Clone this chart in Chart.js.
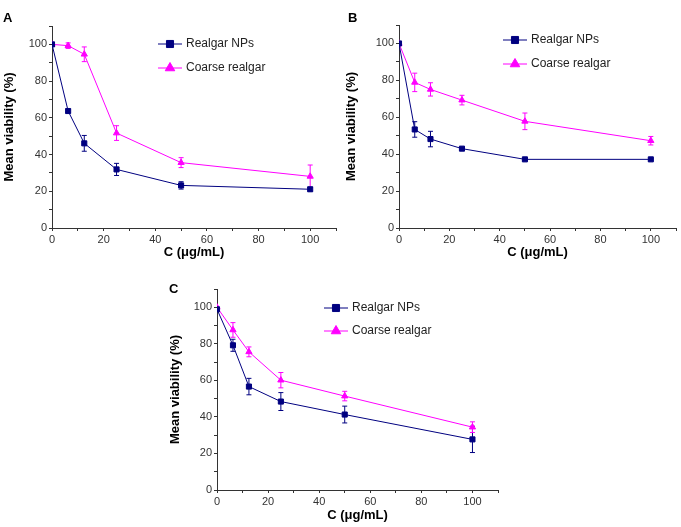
<!DOCTYPE html>
<html>
<head>
<meta charset="utf-8">
<script src="https://cdn.jsdelivr.net/npm/chart.js@4.4.0/dist/chart.umd.min.js"></script>
<style>
    body { margin: 0; background: #fff; }
    #wrap { position: relative; width: 681px; height: 527px; overflow: hidden; }
    canvas { position: absolute; }
</style>
</head>
<body>
<div id="wrap">
    <canvas id="panelA" width="341" height="260" style="left:0;top:0"></canvas>
    <canvas id="panelB" width="341" height="260" style="left:340px;top:0"></canvas>
    <canvas id="panelC" width="345" height="257" style="left:165px;top:270px"></canvas>
</div>
<script>
// Concentrations (µg/mL) shared by all panels
const concentrations = [0, 6.25, 12.5, 25, 50, 100];
const seriesLabels = ['Realgar NPs', 'Coarse realgar'];

// Panel A
const aNanoMean = [100, 63.7, 46.1, 31.9, 23.2, 21.1];
const aNanoErr = [0, 1, 4.3, 3.3, 2, 1];
const aCoarseMean = [100, 99.3, 94.6, 51.7, 35.6, 28.1];
const aCoarseErr = [0, 1.5, 4, 4, 2.7, 6.2];

// Panel B
const bNanoMean = [100, 53.4, 48.2, 43, 37.2, 37.2];
const bNanoErr = [0, 4.2, 4.2, 0.5, 0.5, 0.5];
const bCoarseMean = [100, 78.9, 75.1, 69.3, 57.8, 47.3];
const bCoarseErr = [0, 5, 3.6, 2.6, 4.5, 2.3];

// Panel C
const cNanoMean = [98.9, 79.2, 56.6, 48.4, 41.3, 27.7];
const cNanoErr = [0, 3.3, 4.5, 4.9, 4.6, 7.2];
const cCoarseMean = [100, 87.6, 75.6, 60.1, 51.4, 34.4];
const cCoarseErr = [0, 4, 2.7, 4.2, 2.6, 2.9];

const xTicks = [0, 20, 40, 60, 80, 100];
const yTicks = [0, 20, 40, 60, 80, 100];

const fontFamily = "'Liberation Sans', Arial, Helvetica, sans-serif";
const colors = {
    nano: '#000080',
    coarse: '#ff00ff',
    axis: '#333333',
    text: '#222222'
};

// Error bars drawn under the markers
const errorBarPlugin = {
    id: 'errorBars',
    beforeDatasetsDraw(chart) {
        const ctx = chart.ctx;
        const xs = chart.scales.x, ys = chart.scales.y;
        chart.data.datasets.forEach(ds => {
            if (!ds.errors) return;
            ctx.save();
            ctx.strokeStyle = ds.borderColor;
            ctx.lineWidth = 1;
            ds.data.forEach((p, i) => {
                const e = ds.errors[i];
                if (!e) return;
                const px = xs.getPixelForValue(p.x);
                const top = ys.getPixelForValue(p.y + e);
                const bot = ys.getPixelForValue(p.y - e);
                ctx.beginPath();
                ctx.moveTo(px, top); ctx.lineTo(px, bot);
                ctx.moveTo(px - 2.5, top); ctx.lineTo(px + 2.5, top);
                ctx.moveTo(px - 2.5, bot); ctx.lineTo(px + 2.5, bot);
                ctx.stroke();
            });
            ctx.restore();
        });
    }
};

// Legend box and panel letter
const panelDecorPlugin = {
    id: 'panelDecor',
    afterDraw(chart, args, opts) {
        const ctx = chart.ctx;
        ctx.save();
        ctx.fillStyle = '#000';
        ctx.font = 'bold 13px ' + fontFamily;
        ctx.textBaseline = 'alphabetic';
        ctx.fillText(opts.letter, opts.letterX, opts.letterY);

        chart.data.datasets.forEach((ds, i) => {
            const y = opts.legendY + i * opts.legendGap;
            const x0 = opts.legendX;
            ctx.strokeStyle = ds.borderColor;
            ctx.fillStyle = ds.backgroundColor;
            ctx.lineWidth = 1;
            ctx.beginPath();
            ctx.moveTo(x0, y); ctx.lineTo(x0 + 24, y);
            ctx.stroke();
            Chart.helpers.drawPoint(ctx, {
                pointStyle: ds.pointStyle,
                radius: ds.pointStyle === 'triangle' ? 5.5 : 5,
                rotation: 0,
                borderWidth: 1
            }, x0 + 12, y);
            ctx.fillStyle = colors.text;
            ctx.font = '12px ' + fontFamily;
            ctx.textBaseline = 'middle';
            ctx.fillText(ds.label, x0 + 28, y);
        });
        ctx.restore();
    }
};

function toPoints(values) {
    return values.map((v, i) => ({ x: concentrations[i], y: v }));
}

function createPanel(canvasId, nanoMean, nanoErr, coarseMean, coarseErr, layout) {
    const ctx = document.getElementById(canvasId).getContext('2d');
    const tickFont = { family: fontFamily, size: 11 };
    const titleFont = { family: fontFamily, size: 13, weight: 'bold' };

    return new Chart(ctx, {
        type: 'line',
        data: {
            datasets: [{
                label: seriesLabels[0],
                data: toPoints(nanoMean),
                errors: nanoErr,
                borderColor: colors.nano,
                backgroundColor: colors.nano,
                borderWidth: 1,
                pointStyle: 'rect',
                pointRadius: 3.6,
                pointBorderWidth: 1,
                tension: 0
            }, {
                label: seriesLabels[1],
                data: toPoints(coarseMean),
                errors: coarseErr,
                borderColor: colors.coarse,
                backgroundColor: colors.coarse,
                borderWidth: 1,
                pointStyle: 'triangle',
                pointRadius: 3.6,
                pointBorderWidth: 1,
                tension: 0
            }]
        },
        options: {
            responsive: false,
            animation: false,
            devicePixelRatio: 1,
            layout: {
                padding: { top: layout.padTop, right: layout.padRight, left: 0, bottom: 0 }
            },
            plugins: {
                legend: { display: false },
                tooltip: { enabled: false },
                panelDecor: layout.decor
            },
            scales: {
                x: {
                    type: 'linear',
                    min: 0,
                    max: 110,
                    afterFit: function(scale) { scale.height = layout.xHeight; },
                    border: { display: true, color: colors.axis, width: 1 },
                    grid: { drawOnChartArea: false, tickLength: 3, tickColor: colors.axis },
                    ticks: {
                        stepSize: 10,
                        includeBounds: false,
                        autoSkip: false,
                        maxRotation: 0,
                        padding: 2,
                        color: colors.axis,
                        font: tickFont,
                        callback: v => xTicks.includes(v) ? String(v) : ''
                    },
                    title: {
                        display: true,
                        text: 'C (μg/mL)',
                        color: '#000',
                        font: titleFont,
                        padding: { top: 0, bottom: layout.xTitlePad }
                    }
                },
                y: {
                    type: 'linear',
                    min: 0,
                    max: 110,
                    afterFit: function(scale) { scale.width = layout.yWidth; },
                    border: { display: true, color: colors.axis, width: 1 },
                    grid: { drawOnChartArea: false, tickLength: 3, tickColor: colors.axis },
                    ticks: {
                        stepSize: 10,
                        includeBounds: false,
                        autoSkip: false,
                        padding: 2,
                        color: colors.axis,
                        font: tickFont,
                        callback: v => yTicks.includes(v) ? String(v) : ''
                    },
                    title: {
                        display: true,
                        text: 'Mean viability (%)',
                        color: '#000',
                        font: titleFont,
                        padding: { top: layout.yTitlePad, bottom: 0 }
                    }
                }
            }
        },
        plugins: [errorBarPlugin, panelDecorPlugin]
    });
}

createPanel('panelA', aNanoMean, aNanoErr, aCoarseMean, aCoarseErr, {
    padTop: 26, padRight: 1, yWidth: 52, xHeight: 32, xTitlePad: 0, yTitlePad: 2,
    decor: { letter: 'A', letterX: 3, letterY: 22, legendX: 158, legendY: 44, legendGap: 24 }
});

createPanel('panelB', bNanoMean, bNanoErr, bCoarseMean, bCoarseErr, {
    padTop: 25, padRight: 1, yWidth: 59, xHeight: 32, xTitlePad: 0, yTitlePad: 4,
    decor: { letter: 'B', letterX: 8, letterY: 22, legendX: 163, legendY: 40, legendGap: 24 }
});

createPanel('panelC', cNanoMean, cNanoErr, cCoarseMean, cCoarseErr, {
    padTop: 19, padRight: 12, yWidth: 52, xHeight: 37, xTitlePad: 3.5, yTitlePad: 3,
    decor: { letter: 'C', letterX: 4, letterY: 23, legendX: 159, legendY: 38, legendGap: 23 }
});
</script>
</body>
</html>
